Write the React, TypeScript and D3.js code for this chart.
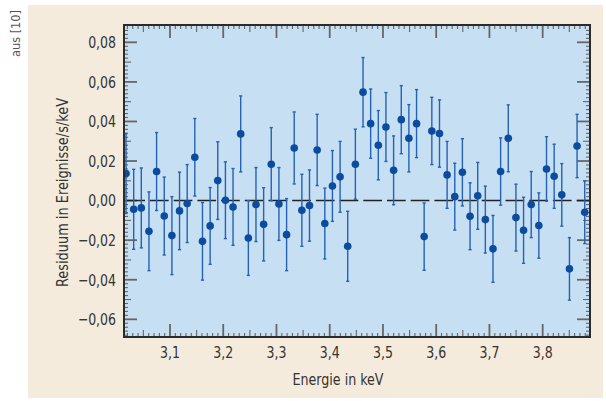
import React from "react";
import * as d3 from "d3";

// bin centres (keV)
const energies = [
  3.0174, 3.0318, 3.0461, 3.0605, 3.0748, 3.0892, 3.1036, 3.1179, 3.1323, 3.1466,
  3.161, 3.1754, 3.1897, 3.2041, 3.2184, 3.2328, 3.2472, 3.2615, 3.2759, 3.2902,
  3.3046, 3.319, 3.3333, 3.3477, 3.362, 3.3764, 3.3908, 3.4051, 3.4195, 3.4338,
  3.4482, 3.4626, 3.4769, 3.4913, 3.5056, 3.52, 3.5344, 3.5487, 3.5631, 3.5774,
  3.5918, 3.6062, 3.6205, 3.6349, 3.6492, 3.6636, 3.678, 3.6923, 3.7067, 3.721,
  3.7354, 3.7498, 3.7641, 3.7785, 3.7928, 3.8072, 3.8216, 3.8359, 3.8503, 3.8646,
  3.879,
];

// residuals (counts/s/keV)
const residuals = [
  0.0137, -0.0044, -0.0037, -0.0155, 0.0147, -0.0078, -0.0177, -0.0052, -0.0015, 0.0219,
  -0.0206, -0.0128, 0.0101, 0.0002, -0.0032, 0.0337, -0.0189, -0.002, -0.012, 0.0184,
  -0.0017, -0.0172, 0.0266, -0.0049, -0.0025, 0.0256, -0.0116, 0.0074, 0.012, -0.0231,
  0.0184, 0.0548, 0.0389, 0.028, 0.0372, 0.0153, 0.0409, 0.0315, 0.0389, -0.0182,
  0.0352, 0.0339, 0.013, 0.002, 0.0143, -0.0079, 0.0024, -0.0096, -0.0244, 0.0147,
  0.0315, -0.0086, -0.015, -0.002, -0.0126, 0.016, 0.0123, 0.0029, -0.0345, 0.0276,
  -0.0059,
];

// 1 sigma errors
const errors = [
  0.0202, 0.0202, 0.0202, 0.0199, 0.0197, 0.0197, 0.0197, 0.0196, 0.0197, 0.0196,
  0.0196, 0.0194, 0.0196, 0.0194, 0.0194, 0.0192, 0.0189, 0.0187, 0.0185, 0.0185,
  0.0184, 0.0182, 0.0182, 0.0182, 0.018, 0.018, 0.0179, 0.0179, 0.0179, 0.0177,
  0.0177, 0.0175, 0.0175, 0.0175, 0.0174, 0.0174, 0.0172, 0.017, 0.0172, 0.017,
  0.017, 0.017, 0.0169, 0.0169, 0.017, 0.0169, 0.0169, 0.0169, 0.0169, 0.017,
  0.0169, 0.0169, 0.0167, 0.0167, 0.0165, 0.0163, 0.0162, 0.0158, 0.0158, 0.016,
  0.0158,
];

const xTickLabels = [3.1, 3.2, 3.3, 3.4, 3.5, 3.6, 3.7, 3.8];
const yTickLabels = [0.08, 0.06, 0.04, 0.02, 0, -0.02, -0.04, -0.06];

const W = 606;
const H = 401;
const L = 124, R = 590, T = 25, B = 337;

const font = "'DejaVu Sans Condensed', 'Liberation Sans Narrow', Arial, sans-serif";
const de = (v: number, d: number) => {
  const s = Math.abs(v).toFixed(d).replace(".", ",");
  return v < -1e-9 ? "\u2212" + s : s;
};

export default function App() {
  const x = d3.scaleLinear().domain([3.0136, 3.8889]).range([L, R]);
  const y = d3.scaleLinear().domain([-0.06894, 0.08875]).range([B, T]);

  const pts = energies.map((e, i) => ({ e, r: residuals[i], s: errors[i] }));

  // tick sets
  const xMinor = d3.range(3.02, 3.885, 0.01);
  const yMinor = d3.range(-0.068, 0.088, 0.002);

  const xTick = (v: number) => {
    const k = Math.round(v * 100);
    if (k % 10 === 0) return 13;
    if (k % 5 === 0) return 7;
    return 4;
  };
  const yTick = (v: number) => {
    const k = Math.round(v * 1000);
    if (k % 20 === 0) return 13;
    if (k % 10 === 0) return 7;
    return 4;
  };

  return (
    <svg width={W} height={H} style={{ position: "absolute", left: 0, top: 0 }} fontFamily={font}>
      <rect x={0} y={0} width={W} height={H} fill="#ffffff" />
      <rect x={28} y={5} width={575} height={393} fill="#f5ebdd" />
      <text
        transform="translate(20,33.5) rotate(-90)"
        textAnchor="middle"
        fontSize={13}
        fill="#555"
        textLength={47}
        lengthAdjust="spacingAndGlyphs"
      >
        aus [10]
      </text>

      <rect x={L} y={T} width={R - L} height={B - T} fill="#c7dff3" />

      <defs>
        <clipPath id="plotClip">
          <rect x={L} y={T} width={R - L} height={B - T} />
        </clipPath>
      </defs>

      {/* ticks */}
      <g stroke="#666">
        {xMinor.map((v, i) => {
          const len = xTick(v);
          const px = x(v);
          const w = len > 10 ? 1.8 : 1.1;
          return (
            <g key={"xt" + i} strokeWidth={w}>
              <line x1={px} x2={px} y1={B} y2={B - len} />
              <line x1={px} x2={px} y1={T} y2={T + len} />
            </g>
          );
        })}
        {yMinor.map((v, i) => {
          const len = yTick(v);
          const py = y(v);
          const w = len > 10 ? 1.8 : 1.1;
          return (
            <g key={"yt" + i} strokeWidth={w}>
              <line x1={L} x2={L + len} y1={py} y2={py} />
              <line x1={R} x2={R - len} y1={py} y2={py} />
            </g>
          );
        })}
      </g>

      {/* zero line */}
      <line
        x1={L}
        x2={R}
        y1={y(0)}
        y2={y(0)}
        stroke="#222"
        strokeWidth={1.5}
        strokeDasharray="18.7 5"
        strokeDashoffset={-2.3}
      />

      {/* data */}
      <g clipPath="url(#plotClip)">
        {pts.map((p, i) => {
          const px = x(p.e);
          const y1 = y(p.r + p.s);
          const y2 = y(p.r - p.s);
          return (
            <g key={"p" + i} stroke="#2462b4" strokeWidth={1.4}>
              <line x1={px} x2={px} y1={y1} y2={y2} />
              <line x1={px - 1.6} x2={px + 1.6} y1={y1} y2={y1} />
              <line x1={px - 1.6} x2={px + 1.6} y1={y2} y2={y2} />
            </g>
          );
        })}
        {pts.map((p, i) => (
          <circle key={"c" + i} cx={x(p.e)} cy={y(p.r)} r={3.8} fill="#0b4c9f" />
        ))}
      </g>

      <rect x={L} y={T} width={R - L} height={B - T} fill="none" stroke="#2b2b2b" strokeWidth={2} />

      {/* tick labels */}
      {yTickLabels.map((v) => (
        <text
          key={"yl" + v}
          transform={`translate(116,${y(v)}) scale(0.87,1)`}
          dy="0.36em"
          textAnchor="end"
          fontSize={16}
          fill="#333"
        >
          {de(v, 2)}
        </text>
      ))}
      {xTickLabels.map((v) => (
        <text
          key={"xl" + v}
          transform={`translate(${x(v)},358) scale(0.87,1)`}
          textAnchor="middle"
          fontSize={16}
          fill="#333"
        >
          {de(v, 1)}
        </text>
      ))}

      <text
        x={338}
        y={385}
        textAnchor="middle"
        fontSize={16}
        fill="#333"
        textLength={91}
        lengthAdjust="spacingAndGlyphs"
      >
        Energie in keV
      </text>
      <text
        transform="translate(68,192.5) rotate(-90)"
        textAnchor="middle"
        fontSize={16}
        fill="#333"
        textLength={189}
        lengthAdjust="spacingAndGlyphs"
      >
        Residuum in Ereignisse/s/keV
      </text>
    </svg>
  );
}
